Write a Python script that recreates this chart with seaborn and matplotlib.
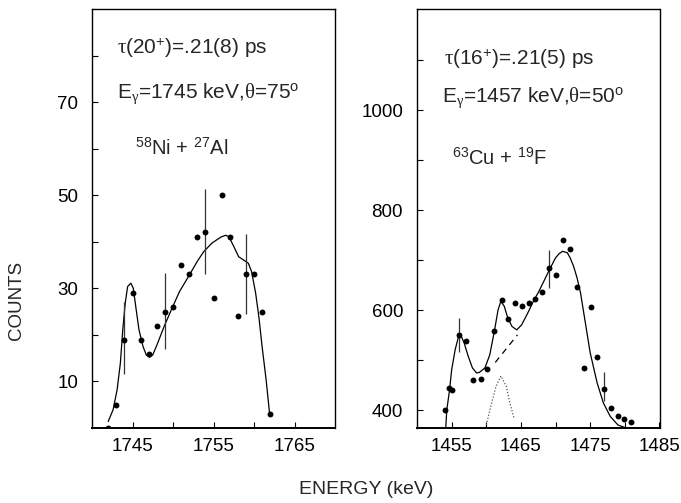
import numpy as np
import pandas as pd
import matplotlib
matplotlib.use("Agg")
import matplotlib.pyplot as plt
import seaborn as sns

# ---------------- data ----------------
left_energy = [1742, 1743, 1744, 1745, 1746, 1747, 1748, 1749, 1750, 1751, 1752,
               1753, 1754, 1755, 1756, 1757, 1758, 1759, 1760, 1761, 1762]
left_counts = [0, 5, 19, 29, 19, 16, 22, 25, 26, 35, 33,
               41, 42, 28, 50, 41, 24, 33, 33, 25, 3]
left_err_x = [1744, 1749, 1754, 1759]
left_err_lo = [11.5, 17, 33, 24.5]
left_err_hi = [27, 33.3, 51.3, 41.6]
left_fit_x = [1742.0, 1742.6, 1743.1, 1743.5, 1743.8, 1744.1, 1744.4, 1744.8, 1745.1,
              1745.4, 1745.8, 1746.3, 1746.7, 1747.1, 1747.5, 1748.1, 1748.9, 1749.8,
              1750.8, 1751.9, 1753.0, 1753.8, 1754.8, 1755.9, 1756.5, 1756.9, 1757.5,
              1758.1, 1758.7, 1759.3, 1759.7, 1760.2, 1760.6, 1761.0, 1761.5, 1761.9]
left_fit_y = [1.4, 3.9, 8.2, 13.9, 21.1, 26.8, 30.4, 31.1, 30.0,
              26.1, 21.1, 17.5, 15.7, 15.2, 15.7, 18.2, 21.8, 25.4,
              29.3, 32.5, 35.8, 37.9, 39.7, 41.0, 41.4, 41.1, 39.0,
              36.8, 36.1, 35.4, 33.6, 29.0, 23.9, 17.5, 10.3, 3.5]

right_energy = [1454.0, 1454.6, 1455.1, 1456.1, 1457.1, 1458.1, 1459.2, 1460.1, 1461.1,
                1462.2, 1463.2, 1464.2, 1465.1, 1466.2, 1467.1, 1468.1, 1469.1, 1470.1,
                1471.1, 1472.1, 1473.1, 1474.1, 1475.1, 1476.0, 1477.0, 1478.0, 1479.0,
                1479.9, 1480.9]
right_counts = [400, 445, 441, 551, 538, 461, 462, 483, 559,
                621, 583, 615, 609, 615, 623, 636, 684, 671,
                740, 723, 647, 484, 607, 506, 443, 405, 388,
                383, 377]
right_err_x = [1456.1, 1469.1, 1477.0]
right_err_lo = [516, 645, 418]
right_err_hi = [585, 721, 476]
right_fit_x = [1454.15, 1454.3, 1454.7, 1455.0, 1455.5, 1456.0, 1456.3, 1456.8, 1457.4,
               1458.0, 1458.6, 1459.0, 1459.8, 1460.5, 1461.2, 1461.7, 1462.1, 1462.6,
               1463.1, 1463.7, 1464.4, 1465.1, 1466.0, 1466.9, 1467.6, 1468.3, 1469.0,
               1470.0, 1470.5, 1471.0, 1471.7, 1472.1, 1472.6, 1473.1, 1473.6, 1474.3,
               1475.0, 1476.0, 1476.9, 1477.9, 1479.0, 1480.2, 1480.8]
right_fit_y = [365, 401, 441, 481, 521, 548, 551, 535, 508,
               485, 475, 476, 485, 511, 561, 601, 618, 608,
               585, 568, 561, 571, 595, 621, 638, 658, 678,
               705, 713, 718, 715, 705, 688, 665, 635, 575,
               515, 455, 415, 388, 371, 365, 362]
right_bg_x = [1461.3, 1464.5]
right_bg_y = [496, 551]
right_peak_x = [1459.9, 1460.7, 1461.4, 1462.1, 1462.9, 1463.4, 1464.0]
right_peak_y = [365, 411, 448, 469, 448, 415, 385]

left_xticks = [1745, 1750, 1755, 1760, 1765]
left_xlabels = ['1745', '', '1755', '', '1765']
left_yticks = [10, 20, 30, 40, 50, 60, 70, 80]
left_ylabels = ['10', '', '30', '', '50', '', '70', '']
right_xticks = [1455, 1460, 1465, 1470, 1475, 1480, 1485]
right_xlabels = ['1455', '', '1465', '', '1475', '', '1485']
right_yticks = [400, 500, 600, 700, 800, 900, 1000, 1100]
right_ylabels = ['400', '', '600', '', '800', '', '1000', '']

# ---------------- style ----------------
sns.set_style("ticks")
plt.rcParams['font.family'] = ['Liberation Sans', 'DejaVu Sans']
plt.rcParams['mathtext.fontset'] = 'custom'
plt.rcParams['mathtext.rm'] = 'Liberation Sans'
plt.rcParams['mathtext.it'] = 'Liberation Serif'
plt.rcParams['mathtext.bf'] = 'Liberation Sans:bold'

fig = plt.figure(figsize=(6.81, 5.03), dpi=100)
W, H = 681, 503
def ax_rect(x0, x1, ytop, ybot):
    return [x0 / W, 1 - ybot / H, (x1 - x0) / W, (ybot - ytop) / H]

axL = fig.add_axes(ax_rect(92, 335, 9, 428))
axR = fig.add_axes(ax_rect(417, 659.5, 9, 428))

def draw(ax, ex, cy, fx, fy, erx, elo, ehi):
    sns.lineplot(x=fx, y=fy, ax=ax, color='black', lw=0.9, sort=False, estimator=None)
    sns.scatterplot(x=ex, y=cy, ax=ax, color='black', s=18, linewidth=0, zorder=5)
    ax.vlines(erx, elo, ehi, color='#333333', lw=0.9)

draw(axL, left_energy, left_counts, left_fit_x, left_fit_y, left_err_x, left_err_lo, left_err_hi)
draw(axR, right_energy, right_counts, right_fit_x, right_fit_y, right_err_x, right_err_lo, right_err_hi)
sns.lineplot(x=right_bg_x, y=right_bg_y, ax=axR, color='black', lw=0.9,
             sort=False, estimator=None, linestyle=(0, (5, 4)))
sns.lineplot(x=right_peak_x, y=right_peak_y, ax=axR, color='#555555', lw=0.9,
             sort=False, estimator=None, linestyle=(0, (1, 1.5)))

axL.set_xlim(1740, 1770)
axL.set_ylim(0, 90)
axR.set_xlim(1450, 1485)
axR.set_ylim(365, 1202)

for ax, xt, xl, yt, yl in [(axL, left_xticks, left_xlabels, left_yticks, left_ylabels),
                           (axR, right_xticks, right_xlabels, right_yticks, right_ylabels)]:
    ax.set_xticks(xt)
    ax.set_xticklabels(xl)
    ax.set_yticks(yt)
    ax.set_yticklabels(yl)
    ax.tick_params(direction='in', length=4, width=0.8, labelsize=13.5, colors='black')
    ax.tick_params(axis='y', pad=10)
    ax.tick_params(axis='x', pad=7)
    for s in ax.spines.values():
        s.set_visible(True)
        s.set_linewidth(1.0)
        s.set_color('black')
    ax.spines['bottom'].set_linewidth(1.4)
    ax.set_xlabel('')
    ax.set_ylabel('')

fs = 15
fig.text(117 / W, 1 - 54 / H, r'$\tau$(20$^{+}$)=.21(8) ps', fontsize=fs, va='baseline')
fig.text(117 / W, 1 - 98 / H, r'E$_{\gamma}$=1745 keV,$\theta$=75$^{\rm o}$', fontsize=fs, va='baseline')
fig.text(135 / W, 1 - 155 / H, r'$^{58}$Ni + $^{27}$Al', fontsize=14.5, va='baseline')
fig.text(444 / W, 1 - 65 / H, r'$\tau$(16$^{+}$)=.21(5) ps', fontsize=fs, va='baseline')
fig.text(442 / W, 1 - 102 / H, r'E$_{\gamma}$=1457 keV,$\theta$=50$^{\rm o}$', fontsize=fs, va='baseline')
fig.text(452 / W, 1 - 165 / H, r'$^{63}$Cu + $^{19}$F', fontsize=14.5, va='baseline')

fig.text(16 / W, 1 - 300 / H, 'COUNTS', rotation=90, fontsize=13.5, ha='center', va='center')
fig.text(366 / W, 1 - 490 / H, 'ENERGY (keV)', fontsize=14, ha='center', va='center')

fig.savefig('out.png', dpi=100)
